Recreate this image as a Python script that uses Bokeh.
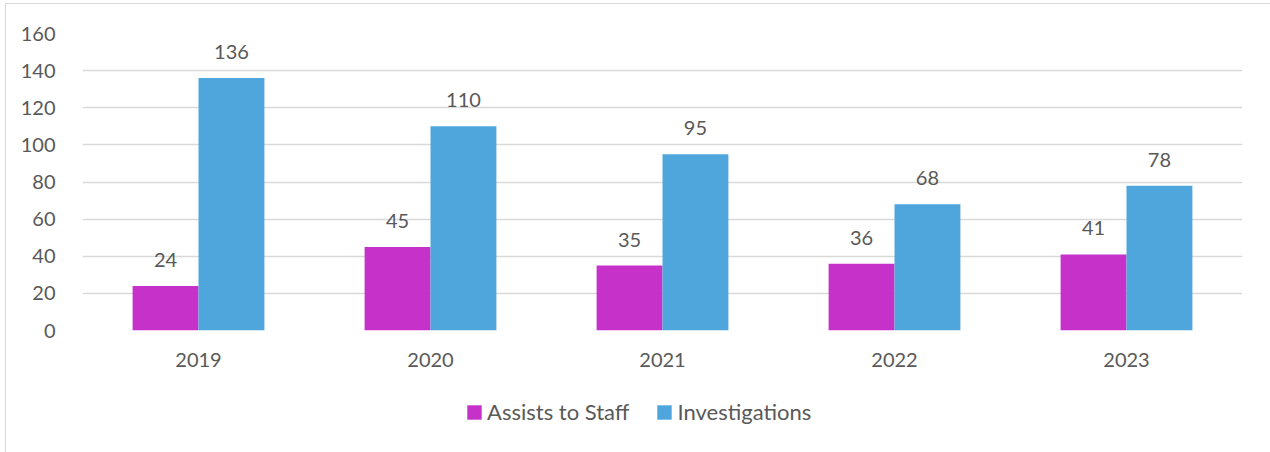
from bokeh.plotting import figure
from bokeh.models import ColumnDataSource, Legend, LegendItem, FactorRange, Range1d, Spacer
from bokeh.layouts import column, row
from bokeh.transform import dodge
from bokeh.core.properties import value
from bokeh.embed import file_html
from bokeh.resources import INLINE

years = ["2019", "2020", "2021", "2022", "2023"]
assists = [24, 45, 35, 36, 41]
investigations = [136, 110, 95, 68, 78]
series_names = ["Assists to Staff", "Investigations"]
colors = ["#C531C9", "#4EA6DC"]
y_ticks = [0, 20, 40, 60, 80, 100, 120, 140, 160]

FONT = "Lato"
TXT = "#595959"
W = 1264

src = ColumnDataSource(dict(
    year=years, a=assists, i=investigations,
    a_lab=[str(v) for v in assists], i_lab=[str(v) for v in investigations],
))

p = figure(x_range=FactorRange(*years, range_padding=0), y_range=Range1d(0, 160),
           width=W, height=380, output_backend="svg", toolbar_location=None,
           min_border_left=76, min_border_right=28, min_border_top=29, min_border_bottom=54)
p.background_fill_color = "white"
p.border_fill_color = "white"
p.outline_line_color = None

bw = 0.284
p.vbar(x=dodge("year", -bw / 2, range=p.x_range), top="a", width=bw, source=src,
       fill_color=colors[0], line_color=None)
p.vbar(x=dodge("year", bw / 2, range=p.x_range), top="i", width=bw, source=src,
       fill_color=colors[1], line_color=None)

for col, lab, off in (("a", "a_lab", -bw / 2), ("i", "i_lab", bw / 2)):
    p.text(x=dodge("year", off, range=p.x_range), y=col, text=lab, source=src,
           text_align="center", text_baseline="alphabetic", y_offset=-26,
           text_font=value(FONT), text_font_size="20px", text_color=TXT)

p.xgrid.grid_line_color = None
p.ygrid.grid_line_color = "#D9D9D9"
p.ygrid.grid_line_width = 1.3
p.yaxis.ticker = y_ticks
p.yaxis.axis_line_color = None
p.xaxis.axis_line_color = None
for ax in (p.xaxis[0], p.yaxis[0]):
    ax.major_tick_line_color = None
    ax.minor_tick_line_color = None
    ax.major_label_text_font = FONT
    ax.major_label_text_font_size = "20px"
    ax.major_label_text_color = TXT
p.yaxis.major_label_standoff = 21
p.xaxis.major_label_standoff = 16

# legend strip
lf = figure(width=W, height=60, output_backend="svg", toolbar_location=None,
            x_range=Range1d(0, 1), y_range=Range1d(0, 1),
            x_axis_location=None, y_axis_location=None, min_border=0)
lf.background_fill_color = "white"
lf.border_fill_color = "white"
lf.outline_line_color = None
lf.grid.grid_line_color = None
la = lf.vbar(x=[-10], top=[0], width=0.1, fill_color=colors[0], line_color=None)
li = lf.vbar(x=[-10], top=[0], width=0.1, fill_color=colors[1], line_color=None)
legend = Legend(items=[LegendItem(label=series_names[0], renderers=[la]),
                       LegendItem(label=series_names[1], renderers=[li])],
                orientation="horizontal", location=(383, 19),
                label_text_font=FONT, label_text_font_size="22px", label_text_color=TXT,
                glyph_width=18, glyph_height=18, spacing=26, label_standoff=4,
                border_line_color=None, background_fill_alpha=0, padding=0, margin=0)
lf.add_layout(legend, "center")

inner = column(p, lf, Spacer(width=W, height=8),
               styles={"border": "1px solid #D9D9D9", "background-color": "white"})
layout = column(Spacer(width=W, height=3), row(Spacer(width=5, height=10), inner))

open("out.html", "w").write(file_html(layout, INLINE))
